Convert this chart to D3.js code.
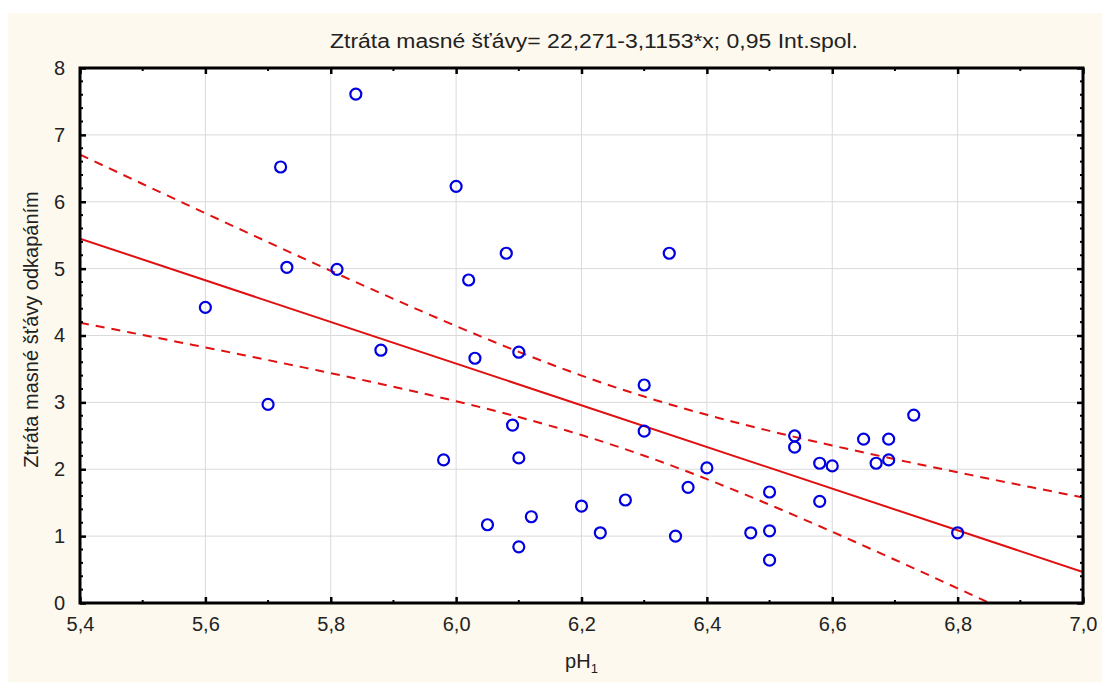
<!DOCTYPE html>
<html>
<head>
<meta charset="utf-8">
<script src="https://cdn.jsdelivr.net/npm/d3@7"></script>
<style>
  body { margin: 0; background: #fff; }
  text { font-family: "Liberation Sans", Arial, sans-serif; fill: #222; }
</style>
</head>
<body>
<div id="chart"></div>
<script>
// Data (pH1 vs drip loss)
const phValues = [5.60, 5.70, 5.72, 5.73, 5.81, 5.84, 5.88, 5.98, 6.00, 6.02, 6.03, 6.05, 6.08, 6.09,
  6.10, 6.10, 6.10, 6.12, 6.20, 6.23, 6.27, 6.30, 6.30, 6.34, 6.35, 6.37, 6.40, 6.47,
  6.50, 6.50, 6.50, 6.54, 6.54, 6.58, 6.58, 6.60, 6.65, 6.67, 6.69, 6.69, 6.73, 6.80];
const lossValues = [4.42, 2.97, 6.52, 5.02, 4.99, 7.61, 3.78, 2.14, 6.23, 4.83, 3.66, 1.17, 5.23, 2.66,
  2.17, 3.75, 0.84, 1.29, 1.45, 1.05, 1.54, 3.26, 2.57, 5.23, 1.00, 1.73, 2.02, 1.05,
  1.66, 1.08, 0.64, 2.50, 2.33, 2.09, 1.52, 2.05, 2.45, 2.09, 2.45, 2.14, 2.81, 1.05];
const xTickValues = [5.4, 5.6, 5.8, 6.0, 6.2, 6.4, 6.6, 6.8, 7.0];
const yTickValues = [0, 1, 2, 3, 4, 5, 6, 7, 8];
const intercept = 22.271;
const slope = -3.1153;
const tCrit = 2.021; // t(0.975, 40)

const width = 1102, height = 682;
const margin = { top: 68, right: 19, bottom: 79, left: 80 };
const innerW = width - margin.left - margin.right;
const innerH = height - margin.top - margin.bottom;

const svg = d3.select('#chart').append('svg')
  .attr('width', width)
  .attr('height', height);

// cream panel
svg.append('rect')
  .attr('x', 8).attr('y', 13)
  .attr('width', width - 8).attr('height', height - 13)
  .attr('fill', '#fdf9ee');

const x = d3.scaleLinear().domain([5.4, 7.0]).range([0, innerW]);
const y = d3.scaleLinear().domain([0, 8]).range([innerH, 0]);
const comma = d => d3.format('.1f')(d).replace('.', ',');

const g = svg.append('g').attr('transform', `translate(${margin.left},${margin.top})`);

g.append('rect').attr('width', innerW).attr('height', innerH).attr('fill', '#fff');

g.append('clipPath').attr('id', 'plot-clip')
  .append('rect').attr('width', innerW).attr('height', innerH);

// grid
g.append('g').selectAll('line').data(xTickValues.slice(1, -1)).enter().append('line')
  .attr('x1', d => x(d)).attr('x2', d => x(d))
  .attr('y1', 0).attr('y2', innerH)
  .attr('stroke', '#dadada').attr('stroke-width', 1);
g.append('g').selectAll('line').data(yTickValues.slice(1, -1)).enter().append('line')
  .attr('y1', d => y(d)).attr('y2', d => y(d))
  .attr('x1', 0).attr('x2', innerW)
  .attr('stroke', '#dadada').attr('stroke-width', 1);

// confidence band of the regression line
const n = phValues.length;
const xbar = d3.mean(phValues);
const sxx = d3.sum(phValues, v => (v - xbar) ** 2);
const sse = d3.sum(phValues, (v, i) => (lossValues[i] - (intercept + slope * v)) ** 2);
const s = Math.sqrt(sse / (n - 2));
const halfWidth = v => tCrit * s * Math.sqrt(1 / n + (v - xbar) ** 2 / sxx);
const bandX = d3.range(5.4, 7.0001, 0.02);

const plot = g.append('g').attr('clip-path', 'url(#plot-clip)');

const bandLine = sign => d3.line()
  .x(d => x(d))
  .y(d => y(intercept + slope * d + sign * halfWidth(d)));

[1, -1].forEach(sign => {
  plot.append('path')
    .datum(bandX)
    .attr('d', bandLine(sign))
    .attr('fill', 'none')
    .attr('stroke', '#e01010')
    .attr('stroke-width', 2)
    .attr('stroke-dasharray', '9,7');
});

plot.append('line')
  .attr('x1', x(5.4)).attr('y1', y(intercept + slope * 5.4))
  .attr('x2', x(7.0)).attr('y2', y(intercept + slope * 7.0))
  .attr('stroke', '#e01010')
  .attr('stroke-width', 2);

// points
g.append('g').selectAll('circle').data(phValues).enter().append('circle')
  .attr('cx', d => x(d))
  .attr('cy', (d, i) => y(lossValues[i]))
  .attr('r', 5.5)
  .attr('fill', 'none')
  .attr('stroke', '#0000e0')
  .attr('stroke-width', 2.2);

// axes: inward ticks on all four sides
const xMinor = d3.range(5.5, 7.0, 0.2);
const yMinor = d3.range(0, 8.001, 0.2).filter(v => Math.abs(v - Math.round(v)) > 0.01);

const bottomAxis = d3.axisBottom(x).tickValues(xTickValues).tickFormat(comma).tickSize(-6).tickPadding(14);
const topAxis = d3.axisTop(x).tickValues(xTickValues).tickFormat('').tickSize(-6);
const leftAxis = d3.axisLeft(y).tickValues(yTickValues).tickFormat(d3.format('d')).tickSize(-6).tickPadding(15);
const rightAxis = d3.axisRight(y).tickValues(yTickValues).tickFormat('').tickSize(-6);

const styleAxis = sel => {
  sel.select('.domain').remove();
  sel.selectAll('.tick line').attr('stroke', '#000').attr('stroke-width', 2.5);
  sel.selectAll('.tick text')
    .style('font-family', '"Liberation Sans", Arial, sans-serif')
    .style('font-size', '20px')
    .attr('fill', '#222');
};

g.append('g').attr('transform', `translate(0,${innerH})`).call(bottomAxis).call(styleAxis);
g.append('g').call(topAxis).call(styleAxis);
g.append('g').call(leftAxis).call(styleAxis);
g.append('g').attr('transform', `translate(${innerW},0)`).call(rightAxis).call(styleAxis);

// minor ticks
const minor = g.append('g').attr('stroke', '#000').attr('stroke-width', 2);
minor.selectAll('.mb').data(xMinor).enter().append('line')
  .attr('x1', d => x(d)).attr('x2', d => x(d)).attr('y1', innerH).attr('y2', innerH - 3);
minor.selectAll('.mt').data(xMinor).enter().append('line')
  .attr('x1', d => x(d)).attr('x2', d => x(d)).attr('y1', 0).attr('y2', 3);
minor.selectAll('.ml').data(yMinor).enter().append('line')
  .attr('y1', d => y(d)).attr('y2', d => y(d)).attr('x1', 0).attr('x2', 3);
minor.selectAll('.mr').data(yMinor).enter().append('line')
  .attr('y1', d => y(d)).attr('y2', d => y(d)).attr('x1', innerW).attr('x2', innerW - 3);

// frame
g.append('rect')
  .attr('width', innerW).attr('height', innerH)
  .attr('fill', 'none').attr('stroke', '#000').attr('stroke-width', 3);

// title and axis labels
svg.append('text')
  .attr('x', 330).attr('y', 48)
  .attr('textLength', 528)
  .attr('lengthAdjust', 'spacingAndGlyphs')
  .style('font-size', '20px')
  .text('Ztráta masné šťávy= 22,271-3,1153*x; 0,95 Int.spol.');

const xl = svg.append('text')
  .attr('x', margin.left + innerW / 2).attr('y', 668)
  .attr('text-anchor', 'middle')
  .style('font-size', '20px');
xl.append('tspan').text('pH');
xl.append('tspan').attr('dy', 5).style('font-size', '13px').text('1');

svg.append('text')
  .attr('transform', `translate(38,${margin.top + innerH / 2 - 6}) rotate(-90)`)
  .attr('text-anchor', 'middle')
  .style('font-size', '20px')
  .text('Ztráta masné šťávy odkapáním');
</script>
</body>
</html>
